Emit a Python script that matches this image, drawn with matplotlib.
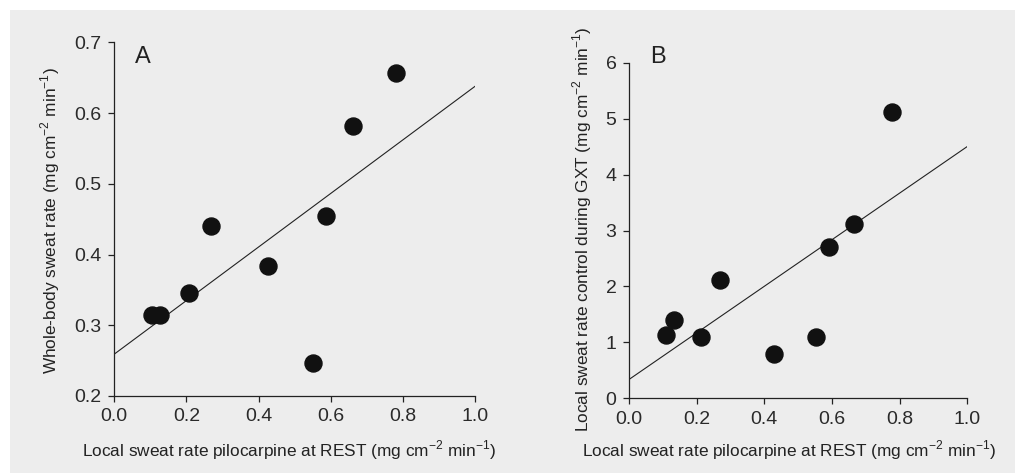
import numpy as np
import matplotlib
matplotlib.use("Agg")
import matplotlib.pyplot as plt
from matplotlib.patches import Rectangle

plt.rcParams["font.family"] = ["Liberation Sans", "DejaVu Sans"]

# local sweat rate pilocarpine at REST (x) for each panel
rest_a = [0.104, 0.127, 0.207, 0.269, 0.427, 0.550, 0.587, 0.661, 0.780]
rest_b = [0.109, 0.133, 0.213, 0.269, 0.430, 0.552, 0.590, 0.664, 0.778]
# panel A: whole-body sweat rate
whole_body = [0.314, 0.314, 0.346, 0.441, 0.384, 0.246, 0.455, 0.581, 0.657]
# panel B: local sweat rate control during GXT
local_gxt = [1.13, 1.40, 1.10, 2.12, 0.80, 1.10, 2.71, 3.12, 5.12]

x_ticks = [0.0, 0.2, 0.4, 0.6, 0.8, 1.0]
ya_ticks = [0.2, 0.3, 0.4, 0.5, 0.6, 0.7]
yb_ticks = [0, 1, 2, 3, 4, 5, 6]

unit = r"(mg cm$^{\mathregular{-2}}$ min$^{\mathregular{-1}}$)"
xlabel = "Local sweat rate pilocarpine at REST " + unit

W, H = 1015, 473
fig = plt.figure(figsize=(W / 100, H / 100), dpi=100)
fig.patches.append(Rectangle((10 / W, 0), 1, 1 - 10 / H, transform=fig.transFigure,
                             facecolor="#ededed", edgecolor="none", zorder=-10))

ax_a = fig.add_axes([0.1126, 0.1628, 0.3554, 0.7478])
ax_b = fig.add_axes([0.6197, 0.1579, 0.3333, 0.7095])


def style(ax, x, y, yticks, ylim, yfmt):
    ax.set_facecolor("none")
    for s in ("top", "right"):
        ax.spines[s].set_visible(False)
    for s in ("left", "bottom"):
        ax.spines[s].set_color("#222222")
        ax.spines[s].set_linewidth(0.9)
    ax.scatter(x, y, s=150, color="#111111", zorder=3, clip_on=False)
    # least-squares regression line
    k, b = np.polyfit(x, y, 1)
    xs = np.array([0.0, 1.0])
    ax.plot(xs, b + k * xs, color="#222222", lw=0.8)
    ax.set_xlim(0, 1.0)
    ax.set_ylim(*ylim)
    ax.set_xticks(x_ticks)
    ax.set_xticklabels([f"{t:.1f}" for t in x_ticks])
    ax.set_yticks(yticks)
    ax.set_yticklabels([yfmt(t) for t in yticks])
    ax.tick_params(direction="out", length=4, width=0.9, color="#222222",
                   labelsize=14, labelcolor="#2a2a2a", pad=5)


style(ax_a, rest_a, whole_body, ya_ticks, (0.2, 0.7), lambda t: f"{t:.1f}")
style(ax_b, rest_b, local_gxt, yb_ticks, (0, 6), lambda t: f"{t:d}")

lab = dict(fontsize=12.4, color="#222222", va="center")
ax_a.set_xlabel(xlabel, **lab)
ax_a.xaxis.set_label_coords(0.484, -0.153)
ax_a.set_ylabel("Whole-body sweat rate " + unit, **lab)
ax_a.yaxis.set_label_coords(-0.178, 0.495)

ax_b.set_xlabel(xlabel, **lab)
ax_b.xaxis.set_label_coords(0.473, -0.154)
ax_b.set_ylabel("Local sweat rate control during GXT " + unit, **lab)
ax_b.yaxis.set_label_coords(-0.139, 0.503)

ax_a.text(0.057, 0.99, "A", transform=ax_a.transAxes, fontsize=17, va="top", color="#222222")
ax_b.text(0.062, 1.05, "B", transform=ax_b.transAxes, fontsize=17, va="top", color="#222222")

fig.savefig("out.png", dpi=100)
